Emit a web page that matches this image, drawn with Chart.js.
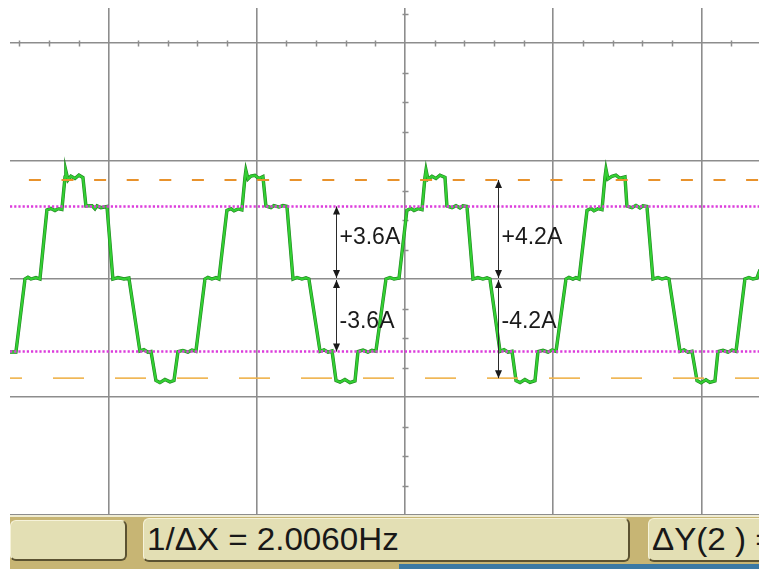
<!DOCTYPE html>
<html>
<head>
<meta charset="utf-8">
<script src="https://cdn.jsdelivr.net/npm/chart.js@4.4.1/dist/chart.umd.min.js"></script>
<style>
  html, body { margin: 0; padding: 0; background: #ffffff; }
  #wrap { position: relative; width: 759px; height: 569px; overflow: hidden; background: #ffffff; }
  #scope { position: absolute; left: 0; top: 0; }
  #bar { position: absolute; left: 10px; top: 515px; width: 749px; height: 54px; background: #c7b574; }
  #barEdge { position: absolute; left: 0; top: 0; width: 749px; height: 2px; background: #efecd4; }
  .box { position: absolute; background: #e3dfb4; border-radius: 6px; box-sizing: border-box;
         border-top: 1px solid #f6f3da; border-left: 1px solid #f6f3da;
         border-right: 2px solid #5b5231; border-bottom: 2px solid #5b5231; overflow: hidden; }
  .box span { position: absolute; left: 3px; top: 3px; font-family: "Liberation Sans", Arial, sans-serif;
              font-size: 31px; line-height: 35px; color: #181818; white-space: nowrap;
              transform: scaleX(1.07); transform-origin: left center; }
  #strip { position: absolute; left: 389px; top: 49px; width: 360px; height: 5px; background: #3b79a4; }
</style>
</head>
<body>
<div id="wrap">
  <canvas id="scope" width="759" height="569"></canvas>
  <div id="bar">
    <div id="barEdge"></div>
    <div class="box" style="left:0px; top:5px; width:117px; height:41px;"></div>
    <div class="box" style="left:133px; top:3px; width:487px; height:44px;"><span id="freqText"></span></div>
    <div class="box" style="left:638px; top:3px; width:130px; height:44px;"><span id="dyText"></span></div>
    <div id="strip"></div>
  </div>
</div>
<script>
// Trace of the stepped current, one array pair per cycle (time and current in screen divisions)
const cycle1T = [-2.664,-2.624,-2.563,-2.543,-2.523,-2.489,-2.462,-2.415,-2.388,-2.361,-2.341,-2.314,-2.293,-2.287,-2.273,-2.253,-2.226,-2.199,-2.172,-2.152,-2.111,-2.091,-2.077,-2.051,-2.010,-1.970,-1.936,-1.895,-1.862,-1.788,-1.761,-1.734,-1.713,-1.680,-1.653,-1.619,-1.585,-1.558,-1.531,-1.498,-1.464,-1.437,-1.410];
const cycle1I = [-0.619,-0.619,0,0.015,0,0.012,0,0.585,0.598,0.580,0.596,0.590,0.864,0.915,0.840,0.872,0.852,0.880,0.860,0.619,0.622,0.595,0.620,0.605,0.615,0,0.012,0,0.008,-0.610,-0.598,-0.620,-0.615,-0.860,-0.878,-0.852,-0.872,-0.860,-0.615,-0.605,-0.620,-0.602,-0.612];
const cycle2T = [-1.349,-1.329,-1.302,-1.275,-1.255,-1.201,-1.174,-1.153,-1.126,-1.100,-1.079,-1.073,-1.059,-1.039,-1.012,-0.985,-0.958,-0.938,-0.904,-0.884,-0.850,-0.823,-0.796,-0.755,-0.728,-0.695,-0.668,-0.648,-0.573,-0.546,-0.519,-0.492,-0.465,-0.438,-0.405,-0.371,-0.337,-0.317,-0.283,-0.250,-0.223,-0.196];
const cycle2I = [0,0.014,0,0.012,0,0.582,0.596,0.578,0.594,0.586,0.864,0.920,0.848,0.872,0.878,0.852,0.868,0.619,0.605,0.622,0.610,0.622,0.615,0,0.013,0,0.010,0,-0.612,-0.600,-0.620,-0.610,-0.860,-0.874,-0.852,-0.878,-0.864,-0.615,-0.603,-0.620,-0.604,-0.612];
const cycle3T = [-0.128,-0.101,-0.074,-0.040,0.013,0.040,0.061,0.088,0.115,0.135,0.142,0.155,0.182,0.209,0.236,0.270,0.283,0.317,0.344,0.371,0.391,0.418,0.459,0.492,0.526,0.553,0.573,0.641,0.668,0.695,0.722,0.749,0.776,0.809,0.843,0.877,0.897,0.931,0.965,0.992,1.019];
const cycle3I = [0,0.013,0,0.008,0.582,0.598,0.580,0.596,0.588,0.864,0.925,0.845,0.870,0.852,0.880,0.862,0.619,0.604,0.622,0.602,0.620,0.615,0,0.012,0,0.010,0,-0.612,-0.598,-0.620,-0.612,-0.862,-0.878,-0.852,-0.876,-0.862,-0.615,-0.604,-0.620,-0.602,-0.612];
const cycle4T = [1.086,1.106,1.133,1.153,1.174,1.228,1.255,1.275,1.302,1.329,1.349,1.356,1.369,1.396,1.423,1.450,1.484,1.497,1.531,1.558,1.585,1.605,1.632,1.673,1.707,1.734,1.761,1.781,1.855,1.882,1.909,1.936,1.970,1.997,2.030,2.057,2.091,2.111,2.145,2.179,2.206,2.233,2.293,2.320,2.347,2.374,2.395];
const cycle4I = [0,0.014,0,0.012,0,0.582,0.598,0.578,0.596,0.588,0.864,0.930,0.848,0.870,0.880,0.854,0.866,0.619,0.604,0.624,0.602,0.620,0.615,0,0.013,0,0.010,0,-0.612,-0.600,-0.620,-0.612,-0.862,-0.880,-0.854,-0.876,-0.864,-0.615,-0.604,-0.620,-0.602,-0.612,0,0.013,0,0.008,0.080];

// Cursor levels (divisions): dotted pair and dashed pair
const dottedCursors = [0.615, -0.615];
const dashedCursors = [0.84, -0.84];

// Annotated spans and their labels
const spanLabelsInner = ["+3.6A", "-3.6A"];
const spanLabelsOuter = ["+4.2A", "-4.2A"];

// Readouts on the soft-key bar
const readoutFreq = "1/\u0394X = 2.0060Hz";
const readoutDY = "\u0394Y(2 ) =";

// Visible screen window (divisions)
const X_MIN = -2.664, X_MAX = 2.388, Y_MIN = -2, Y_MAX = 2.297;

const GRID = '#8d8d8d';

const traceT = [].concat(cycle1T, cycle2T, cycle3T, cycle4T);
const traceI = [].concat(cycle1I, cycle2I, cycle3I, cycle4I);
const tracePts = traceT.map((t, k) => ({ x: t, y: traceI[k] }));
const hLine = v => [{ x: X_MIN, y: v }, { x: X_MAX, y: v }];

document.getElementById('freqText').textContent = readoutFreq;
document.getElementById('dyText').textContent = readoutDY;

function arrowHead(ctx, x, yTip, dir) {
  // dir = +1 points down, -1 points up
  const len = 8, hw = 3.5;
  ctx.beginPath();
  ctx.moveTo(x, yTip);
  ctx.lineTo(x - hw, yTip - dir * len);
  ctx.lineTo(x + hw, yTip - dir * len);
  ctx.closePath();
  ctx.fill();
}
function doubleArrow(ctx, x, yA, yB) {
  ctx.beginPath();
  ctx.moveTo(x, yA);
  ctx.lineTo(x, yB);
  ctx.stroke();
  const d = yB > yA ? 1 : -1;
  arrowHead(ctx, x, yA, -d);
  arrowHead(ctx, x, yB, d);
}

const scopeExtras = {
  id: 'scopeExtras',
  beforeDatasetsDraw(chart) {
    const { ctx, scales: { x, y } } = chart;
    ctx.save();
    ctx.strokeStyle = GRID;
    ctx.lineWidth = 1.5;
    // minor ticks along the upper graticule line (5 per division)
    const yTop = Math.round(y.getPixelForValue(2)) + 0.5;
    for (let k = Math.ceil(X_MIN * 5); k <= Math.floor(X_MAX * 5); k++) {
      if (k % 5 === 0) continue;
      const px = Math.round(x.getPixelForValue(k / 5)) + 0.5;
      ctx.beginPath(); ctx.moveTo(px, yTop - 3); ctx.lineTo(px, yTop + 3); ctx.stroke();
    }
    // minor ticks along the centre vertical line (4 per division)
    const xc = Math.round(x.getPixelForValue(0)) + 0.5;
    for (let k = Math.ceil(Y_MIN * 4); k <= Math.floor(Y_MAX * 4); k++) {
      if (k % 4 === 0) continue;
      const py = Math.round(y.getPixelForValue(k / 4)) + 0.5;
      ctx.beginPath(); ctx.moveTo(xc - 3, py); ctx.lineTo(xc + 3, py); ctx.stroke();
    }
    ctx.restore();
  },
  afterDatasetsDraw(chart) {
    const { ctx, scales: { x, y } } = chart;
    ctx.save();
    ctx.strokeStyle = '#2a2a2a';
    ctx.fillStyle = '#1a1a1a';
    ctx.lineWidth = 1;
    const y0 = y.getPixelForValue(0);
    const spans = [
      { at: -0.465, level: dottedCursors, labels: spanLabelsInner },
      { at: 0.627, level: dashedCursors, labels: spanLabelsOuter }
    ];
    ctx.font = '23px "Liberation Sans", Arial, sans-serif';
    ctx.textBaseline = 'middle';
    ctx.textAlign = 'left';
    spans.forEach(s => {
      const px = Math.round(x.getPixelForValue(s.at)) + 0.5;
      const yUp = y.getPixelForValue(s.level[0]);
      const yDn = y.getPixelForValue(s.level[1]);
      doubleArrow(ctx, px, yUp, y0 - 1);
      doubleArrow(ctx, px, y0 + 1, yDn);
      ctx.fillText(s.labels[0], px + 3, y.getPixelForValue(0.35));
      ctx.fillText(s.labels[1], px + 3, y.getPixelForValue(-0.36));
    });
    ctx.restore();
  }
};

new Chart(document.getElementById('scope'), {
  type: 'scatter',
  data: {
    datasets: [
      { data: hLine(dottedCursors[0]), showLine: true, borderColor: '#dc3cdc', borderWidth: 2.5, borderDash: [2.2, 2], order: 0 },
      { data: hLine(dottedCursors[1]), showLine: true, borderColor: '#dc3cdc', borderWidth: 2.5, borderDash: [2.2, 2], order: 0 },
      { data: hLine(dashedCursors[0]), showLine: true, borderColor: '#e8922c', borderWidth: 2, borderDash: [12, 20.6], borderDashOffset: 13.7, order: 0 },
      { data: hLine(dashedCursors[1]), showLine: true, borderColor: '#efb34c', borderWidth: 1.6, borderDash: [31, 31], borderDashOffset: 19, order: 0 },
      { data: tracePts, showLine: true, borderColor: '#33cf33', borderWidth: 2.2, order: 1 },
      { data: tracePts, showLine: true, borderColor: '#1f861f', borderWidth: 3.4, order: 2 }
    ]
  },
  options: {
    responsive: false,
    animation: false,
    devicePixelRatio: 1,
    layout: { padding: { left: 10, top: 8, right: 0, bottom: 54 } },
    elements: { point: { radius: 0, hoverRadius: 0 }, line: { tension: 0, borderCapStyle: 'butt' } },
    plugins: { legend: { display: false }, tooltip: { enabled: false } },
    events: [],
    scales: {
      x: {
        type: 'linear', min: X_MIN, max: X_MAX,
        ticks: { display: false, stepSize: 1, includeBounds: false },
        grid: { color: GRID, lineWidth: 1.6, drawTicks: false },
        border: { display: false }
      },
      y: {
        type: 'linear', min: Y_MIN, max: Y_MAX,
        ticks: { display: false, stepSize: 1, includeBounds: false },
        grid: { color: GRID, lineWidth: 1.6, drawTicks: false },
        border: { display: false }
      }
    }
  },
  plugins: [scopeExtras]
});
</script>
</body>
</html>
